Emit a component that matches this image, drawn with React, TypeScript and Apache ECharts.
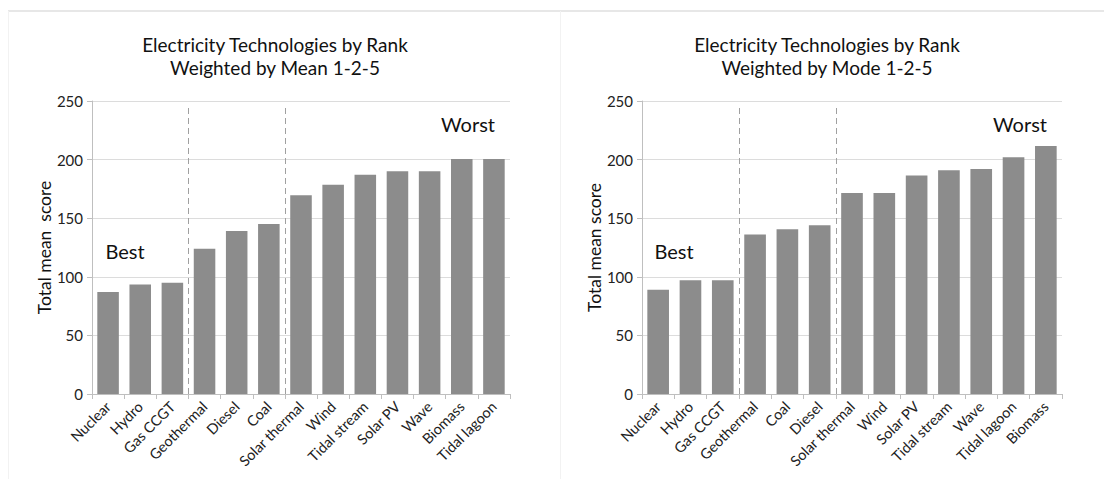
import React, { useEffect, useRef } from "react";
import * as echarts from "echarts";

const meanCategories = ["Nuclear", "Hydro", "Gas CCGT", "Geothermal", "Diesel", "Coal", "Solar thermal", "Wind", "Tidal stream", "Solar PV", "Wave", "Biomass", "Tidal lagoon"];
const meanValues = [87, 93.5, 95, 124, 139, 145, 169.5, 178.5, 187, 190, 190, 200.5, 200.5];

const modeCategories = ["Nuclear", "Hydro", "Gas CCGT", "Geothermal", "Coal", "Diesel", "Solar thermal", "Wind", "Solar PV", "Tidal stream", "Wave", "Tidal lagoon", "Biomass"];
const modeValues = [89, 97, 97, 136, 140.5, 144, 171.5, 171.5, 186.5, 191, 192, 202, 211.5];

const yTicks = [0, 50, 100, 150, 200, 250];
const groupBoundaries = [2.5, 5.5];
const titlesLeft = "Electricity Technologies by Rank\nWeighted by Mean 1-2-5";
const titlesRight = "Electricity Technologies by Rank\nWeighted by Mode 1-2-5";

const FONT = "Lato";
const BAR = "#8c8c8c";

export default function App() {
  const ref = useRef<HTMLDivElement>(null);
  useEffect(() => {
    const chart = echarts.init(ref.current!, undefined, { renderer: "svg" });
    const grids = [
      { left: 92, right: 594, top: 101, bottom: 85 },
      { left: 642, right: 42, top: 101, bottom: 85 },
    ];
    const cats = [meanCategories, modeCategories];
    const vals = [meanValues, modeValues];
    const yNames = ["Total mean  score", "Total mean score"];
    const xAxes: any[] = [];
    const yAxes: any[] = [];
    const series: any[] = [];
    for (let i = 0; i < 2; i++) {
      xAxes.push({
        type: "category",
        gridIndex: i,
        data: cats[i],
        axisLine: { onZero: false, lineStyle: { color: "#bfbfbf", width: 1 } },
        axisTick: { show: true, length: 5, lineStyle: { color: "#bfbfbf" } },
        axisLabel: { rotate: 45, fontFamily: FONT, fontSize: 14.5, color: "#222", margin: 10, interval: 0 },
      });
      xAxes.push({
        type: "value",
        gridIndex: i,
        min: -0.5,
        max: cats[i].length - 0.5,
        show: false,
      });
      yAxes.push({
        type: "value",
        gridIndex: i,
        min: yTicks[0],
        max: yTicks[yTicks.length - 1],
        interval: 50,
        name: yNames[i],
        nameLocation: "middle",
        nameGap: 38,
        nameTextStyle: { fontFamily: FONT, fontSize: 17.5, color: "#111" },
        axisLine: { show: true, onZero: false, lineStyle: { color: "#bfbfbf", width: 1 } },
        axisTick: { show: true, length: 5, lineStyle: { color: "#bfbfbf" } },
        axisLabel: { fontFamily: FONT, fontSize: 15, color: "#222", margin: 9 },
        splitLine: { lineStyle: { color: "#dcdcdc", width: 1 } },
      });
      series.push({
        type: "bar",
        xAxisIndex: i * 2,
        yAxisIndex: i,
        data: vals[i],
        barCategoryGap: "33%",
        itemStyle: { color: BAR },
      });
      series.push({
        type: "line",
        xAxisIndex: i * 2 + 1,
        yAxisIndex: i,
        data: [],
        markLine: {
          symbol: "none",
          silent: true,
          label: { show: false },
          lineStyle: { color: "#a0a0a0", type: [6, 4], width: 1 },
          data: groupBoundaries.map((b) => [{ coord: [b, 0] }, { coord: [b, 247] }]),
        },
      });
    }
    const titleStyle = { fontFamily: FONT, fontSize: 19, fontWeight: "normal", color: "#111", lineHeight: 23 };
    const annot = { fontFamily: FONT, fontSize: 20, fill: "#111", textAlign: "center", textVerticalAlign: "middle" };
    chart.setOption({
      animation: false,
      backgroundColor: "#ffffff",
      title: [
        { text: titlesLeft, left: 270, top: 28, textAlign: "center", textStyle: titleStyle },
        { text: titlesRight, left: 822, top: 28, textAlign: "center", textStyle: titleStyle },
      ],
      grid: grids,
      xAxis: xAxes,
      yAxis: yAxes,
      series,
      graphic: [
        { type: "line", shape: { x1: 8, y1: 11, x2: 1104, y2: 11 }, style: { stroke: "#cfcfcf", lineWidth: 1 } },
        { type: "line", shape: { x1: 8.5, y1: 11, x2: 8.5, y2: 479 }, style: { stroke: "#f2f2f2", lineWidth: 1 } },
        { type: "line", shape: { x1: 560.5, y1: 11, x2: 560.5, y2: 479 }, style: { stroke: "#f2f2f2", lineWidth: 1 } },
        { type: "text", x: 125, y: 251, style: { text: "Best", ...annot } },
        { type: "text", x: 468, y: 124, style: { text: "Worst", ...annot } },
        { type: "text", x: 674, y: 251, style: { text: "Best", ...annot } },
        { type: "text", x: 1020, y: 124, style: { text: "Worst", ...annot } },
      ],
    });
    return () => chart.dispose();
  }, []);
  return <div ref={ref} style={{ position: "absolute", left: 0, top: 0, width: 1104, height: 479 }} />;
}
